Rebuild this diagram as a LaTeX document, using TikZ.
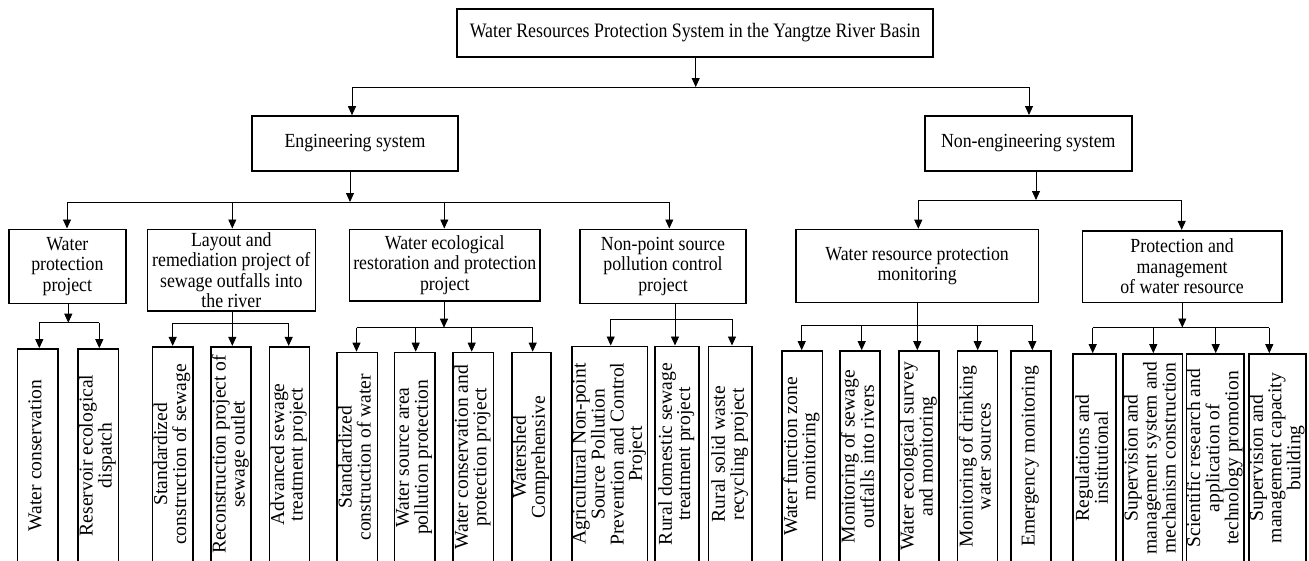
\documentclass[tikz,border=0pt]{standalone}
\usepackage{fontspec}
\setmainfont{Liberation Serif}
\newfontfamily\condA{Liberation Serif}[FakeStretch=0.87]
\newfontfamily\condB{Liberation Serif}[FakeStretch=0.89]
\usetikzlibrary{arrows.meta}
\newcommand\fTop{\condA\fontsize{20.5}{22}\selectfont}
\newcommand\fMid{\condB\fontsize{20}{20.4}\selectfont}
\newcommand\fLeaf{\fontsize{19.6}{18}\selectfont}
\newcommand\vt[1]{\rotatebox{90}{\begin{tabular}{@{}c@{}}#1\end{tabular}}}
\begin{document}
\begin{tikzpicture}[x=1pt,y=-1pt,
  box/.style={draw, line width=1.6pt, inner sep=0pt, align=center, font=\fMid},
  leaf/.style={draw, line width=1.6pt, inner sep=0pt, font=\fLeaf},
  conn/.style={line width=0.9pt},
  arr/.style={conn, -{Triangle[length=9pt,width=8pt]}}]
\useasboundingbox (0,0) rectangle (1309,560);
\fill[white] (0,0) rectangle (1309,560);
\clip (0,0) rectangle (1309,560);

% level 1 and 2
\node[box, font=\fTop, minimum width=476pt, minimum height=48pt] (top) at (695,33) {Water Resources Protection System in the Yangtze River Basin};
\node[box, minimum width=206pt, minimum height=55pt] (eng) at (355,143.5) {Engineering system};
\node[box, minimum width=207pt, minimum height=55pt] (neng) at (1028.3,143.3) {Non-engineering system};

% level 3
\node[box, minimum width=117.3pt, minimum height=74pt] (wp) at (67.35,266.3) {Water\\protection\\project};
\node[box, minimum width=168pt, minimum height=81.7pt] (lay) at (231.3,270.15) {Layout and\\remediation project of\\sewage outfalls into\\the river};
\node[box, minimum width=190.5pt, minimum height=71.7pt] (we) at (444.75,265.15) {Water ecological\\restoration and protection\\project};
\node[box, minimum width=166pt, minimum height=74pt] (np) at (663,266.3) {Non-point source\\pollution control\\project};
\node[box, minimum width=242.3pt, minimum height=72.8pt] (wr) at (917.15,265.9) {Water resource protection\\monitoring};
\node[box, minimum width=199.2pt, minimum height=71.6pt] (pm) at (1182.1,266.5) {Protection and\\management\\of water resource};

% level 4
\node[leaf, minimum width=40.4pt, minimum height=213pt] (wp1) at (37.5,455.5) {\vt{Water conservation}};
\node[leaf, minimum width=40.6pt, minimum height=213pt] (wp2) at (98,455.5) {\vt{Reservoir ecological\\dispatch}};
\node[leaf, minimum width=40.4pt, minimum height=215.3pt] (la1) at (172.5,454.35) {\vt{Standardized\\construction of sewage}};
\node[leaf, minimum width=39.7pt, minimum height=215.3pt] (la2) at (230.85,454.35) {\vt{Reconstruction project of\\sewage outlet}};
\node[leaf, minimum width=40pt, minimum height=215.3pt] (la3) at (289.3,454.35) {\vt{Advanced sewage\\treatment project}};
\node[leaf, minimum width=40.6pt, minimum height=209.5pt] (we1) at (357,457.25) {\vt{Standardized\\construction of water}};
\node[leaf, minimum width=40.7pt, minimum height=209.5pt] (we2) at (414.65,457.25) {\vt{Water source area\\pollution protection}};
\node[leaf, minimum width=40.6pt, minimum height=209.5pt] (we3) at (473,457.25) {\vt{Water conservation and\\protection project}};
\node[leaf, minimum width=39.3pt, minimum height=209.5pt] (we4) at (531.35,457.25) {\vt{Watershed\\Comprehensive}};
\node[leaf, minimum width=72.7pt, minimum height=215.7pt] (np1) at (609.65,454.15) {\vt{Agricultural Non-point\\Source Pollution\\Prevention and Control\\Project}};
\node[leaf, minimum width=43.7pt, minimum height=215.7pt] (np2) at (676.85,454.15) {\vt{Rural domestic sewage\\treatment project}};
\node[leaf, minimum width=43.7pt, minimum height=215.7pt] (np3) at (730.15,454.15) {\vt{Rural solid waste\\recycling project}};
\node[leaf, minimum width=40.6pt, minimum height=211pt] (wr1) at (802,456.5) {\vt{Water function zone\\monitoring}};
\node[leaf, minimum width=40pt, minimum height=211pt] (wr2) at (860,456.5) {\vt{Monitoring of sewage\\outfalls into rivers}};
\node[leaf, minimum width=40pt, minimum height=211pt] (wr3) at (919,456.5) {\vt{Water ecological survey\\and monitoring}};
\node[leaf, minimum width=40pt, minimum height=211pt] (wr4) at (977.3,456.5) {\vt{Monitoring of drinking\\water sources}};
\node[leaf, minimum width=40pt, minimum height=211pt] (wr5) at (1030.7,456.5) {\vt{Emergency monitoring}};
\node[leaf, minimum width=43pt, minimum height=208pt] (pm1) at (1094.2,458) {\vt{Regulations and\\institutional}};
\node[leaf, minimum width=59.6pt, minimum height=208pt] (pm2) at (1152.5,458) {\vt{Supervision and\\management system and\\mechanism construction}};
\node[leaf, minimum width=55.4pt, minimum height=208pt] (pm3) at (1215,458) {\vt{Scientific research and\\application of\\technology promotion}};
\node[leaf, minimum width=57pt, minimum height=208pt] (pm4) at (1277.5,458) {\vt{Supervision and\\management capacity\\building}};

% connectors: top -> level 2
\coordinate (jt) at (695.7,87);
\coordinate (jtL) at (352,87);
\coordinate (jtR) at (1029,87);
\draw[arr] (jt |- top.south) -- (jt);
\draw[conn] (jtL) -- (jtR);
\draw[arr] (jtL) -- (jtL |- eng.north);
\draw[arr] (jtR) -- (jtR |- neng.north);

% engineering -> level 3
\coordinate (je) at (350,202);
\coordinate (jeL) at (67,202);
\coordinate (jeR) at (669.3,202);
\draw[arr] (je |- eng.south) -- (je);
\draw[conn] (jeL) -- (jeR);
\foreach \n/\x in {wp/67, lay/232.3, we/444.3, np/669.3}{
  \coordinate (d\n) at (\x,202);
  \draw[arr] (d\n) -- (d\n |- \n.north);
}

% non-engineering -> level 3
\coordinate (jn) at (1036,200);
\coordinate (jnL) at (918.3,200);
\coordinate (jnR) at (1181.7,200);
\draw[arr] (jn |- neng.south) -- (jn);
\draw[conn] (jnL) -- (jnR);
\draw[arr] (jnL) -- (jnL |- wr.north);
\draw[arr] (jnR) -- (jnR |- pm.north);

% water protection project
\coordinate (jwp) at (68.3,322.7);
\draw[arr] (jwp |- wp.south) -- (jwp);
\draw[conn] (39.3,322.7) coordinate (jwpL) -- (99.3,322.7) coordinate (jwpR);
\foreach \n/\x in {wp1/39.3, wp2/99.3}{
  \coordinate (d\n) at (\x,322.7);
  \draw[arr] (d\n) -- (d\n |- \n.north);
}

% layout
\coordinate (jla) at (232.3,323.3);
\draw[conn] (jla |- lay.south) -- (jla);
\draw[conn] (172.7,323.3) coordinate (jlaL) -- (288.7,323.3) coordinate (jlaR);
\foreach \n/\x in {la1/172.7, la2/232.3, la3/288.7}{
  \coordinate (d\n) at (\x,323.3);
  \draw[arr] (d\n) -- (d\n |- \n.north);
}

% water ecological
\coordinate (jwe) at (444,327.7);
\draw[arr] (jwe |- we.south) -- (jwe);
\draw[conn] (356.5,327.7) coordinate (jweL) -- (532.7,327.7) coordinate (jweR);
\foreach \n/\x in {we1/356.5, we2/415.7, we3/471.7, we4/532.7}{
  \coordinate (d\n) at (\x,327.7);
  \draw[arr] (d\n) -- (d\n |- \n.north);
}

% non-point
\coordinate (jnp) at (675,319.3);
\draw[conn] (jnp |- np.south) -- (jnp);
\draw[conn] (610.7,319.3) coordinate (jnpL) -- (732,319.3) coordinate (jnpR);
\foreach \n/\x in {np1/610.7, np2/675, np3/732}{
  \coordinate (d\n) at (\x,319.3);
  \draw[arr] (d\n) -- (d\n |- \n.north);
}

% water resource protection monitoring
\coordinate (jwr) at (917.3,325);
\draw[conn] (jwr |- wr.south) -- (jwr);
\draw[conn] (801.7,325) coordinate (jwrL) -- (1032.3,325) coordinate (jwrR);
\foreach \n/\x in {wr1/801.7, wr2/861.7, wr3/917.3, wr4/977.7, wr5/1032.3}{
  \coordinate (d\n) at (\x,325);
  \draw[arr] (d\n) -- (d\n |- \n.north);
}

% protection and management
\coordinate (jpm) at (1182.3,327.5);
\draw[arr] (jpm |- pm.south) -- (jpm);
\draw[conn] (1092.7,327.5) coordinate (jpmL) -- (1269.3,327.5) coordinate (jpmR);
\foreach \n/\x in {pm1/1092.7, pm2/1153.3, pm3/1215.7, pm4/1269.3}{
  \coordinate (d\n) at (\x,327.5);
  \draw[arr] (d\n) -- (d\n |- \n.north);
}
\end{tikzpicture}
\end{document}
